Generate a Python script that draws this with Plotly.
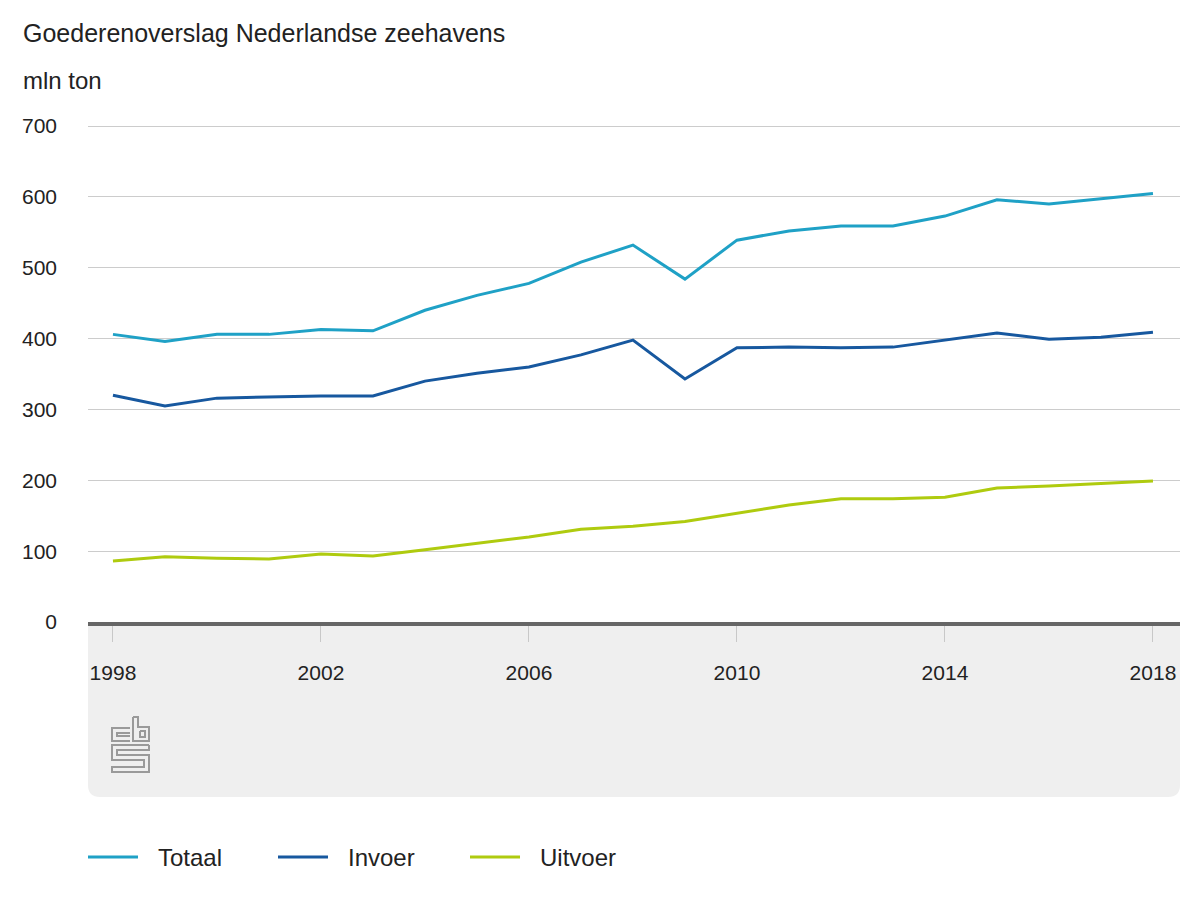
import plotly.graph_objects as go

years = list(range(1998, 2019))
series_names = ["Totaal", "Invoer", "Uitvoer"]
totaal = [406, 396, 406, 406, 413, 411, 440, 461, 478, 508, 532, 484, 539, 552, 559, 559, 573, 596, 590, 597, 605]
invoer = [320, 305, 316, 318, 319, 319, 340, 351, 360, 377, 398, 343, 387, 388, 387, 388, 398, 408, 399, 402, 409]
uitvoer = [86, 92, 90, 89, 96, 93, 102, 111, 120, 131, 135, 142, 154, 165, 174, 174, 176, 189, 192, 196, 199]
x_ticks = [1998, 2002, 2006, 2010, 2014, 2018]
y_ticks = [0, 100, 200, 300, 400, 500, 600, 700]
title_text = "Goederenoverslag Nederlandse zeehavens"
unit_text = "mln ton"

colors = ["#1fa1c6", "#17589f", "#afcb0f"]
values = [totaal, invoer, uitvoer]

W, H = 1200, 900
L, R, T, B = 88, 20, 119, 278
PW, PH = W - L - R, H - T - B
FONT = "Liberation Sans, Arial, sans-serif"


def px(x):
    return (x - L) / PW


def py(y):
    return (H - B - y) / PH


fig = go.Figure()
for name, vals, col in zip(series_names, values, colors):
    fig.add_trace(go.Scatter(x=years, y=vals, name=name, mode="lines",
                             line=dict(color=col, width=3), showlegend=False))

shapes = []
# grey footer box with rounded bottom corners
r = 12
x0, x1, y0, y1 = 88, 1180, 622, 797
path = (f"M {px(x0)},{py(y0)} L {px(x1)},{py(y0)} L {px(x1)},{py(y1 - r)} "
        f"Q {px(x1)},{py(y1)} {px(x1 - r)},{py(y1)} L {px(x0 + r)},{py(y1)} "
        f"Q {px(x0)},{py(y1)} {px(x0)},{py(y1 - r)} Z")
shapes.append(dict(type="path", xref="paper", yref="paper", path=path,
                   fillcolor="#efefef", line=dict(width=0), layer="below"))

# CBS logo (decorative)
logo_paths = [
    [(130, 728), (112, 728), (112, 741), (130, 741)],
    [(130, 733), (117, 733), (117, 736), (130, 736)],
    [(133, 717), (133, 741), (149, 741), (149, 727), (138, 727), (138, 717), (133, 717)],
    [(140, 731), (145, 731), (145, 737), (140, 737), (140, 731)],
    [(149, 745), (112, 745), (112, 760), (144, 760), (144, 767), (112, 767), (112, 772),
     (149, 772), (149, 755), (117, 755), (117, 750), (149, 750), (149, 745)],
]
for pts in logo_paths:
    p = "M " + " L ".join(f"{px(a)},{py(b)}" for a, b in pts)
    shapes.append(dict(type="path", xref="paper", yref="paper", path=p,
                       line=dict(color="#9a9a9a", width=2), layer="above"))

annotations = [
    dict(text=title_text, x=px(21), y=py(33), xref="paper", yref="paper",
         xanchor="left", yanchor="middle", showarrow=False,
         font=dict(family=FONT, size=25, color="#222")),
    dict(text=unit_text, x=px(21), y=py(81), xref="paper", yref="paper",
         xanchor="left", yanchor="middle", showarrow=False,
         font=dict(family=FONT, size=24, color="#222")),
]

# custom legend
leg_x = [88, 278, 470]
for name, col, lx in zip(series_names, colors, leg_x):
    shapes.append(dict(type="line", xref="paper", yref="paper",
                       x0=px(lx), x1=px(lx + 50), y0=py(857), y1=py(857),
                       line=dict(color=col, width=3)))
    annotations.append(dict(text=name, x=px(lx + 68), y=py(857), xref="paper", yref="paper",
                            xanchor="left", yanchor="middle", showarrow=False,
                            font=dict(family=FONT, size=24, color="#222")))

fig.update_layout(
    width=W, height=H,
    margin=dict(l=L, r=R, t=T, b=B, pad=0),
    paper_bgcolor="white", plot_bgcolor="white",
    font=dict(family=FONT, size=21, color="#222"),
    shapes=shapes, annotations=annotations,
    showlegend=False,
    xaxis=dict(range=[1997.52, 2018.52], tickvals=x_ticks, ticktext=[str(v) for v in x_ticks],
               showgrid=False, zeroline=False, showline=True, linecolor="#666666", linewidth=4,
               ticks="outside", ticklen=16, tickwidth=1, tickcolor="#c8c8c8",
               ticklabelstandoff=13, tickfont=dict(size=21, color="#222")),
    yaxis=dict(range=[0, 710], tickvals=y_ticks, showgrid=True, gridcolor="#cccccc", gridwidth=1,
               zeroline=False, showline=False, ticks="", ticklabelstandoff=30,
               tickfont=dict(size=21, color="#222")),
)

fig.write_html("out.html", config={"displayModeBar": False},
               post_script="document.body.style.margin='0';")
